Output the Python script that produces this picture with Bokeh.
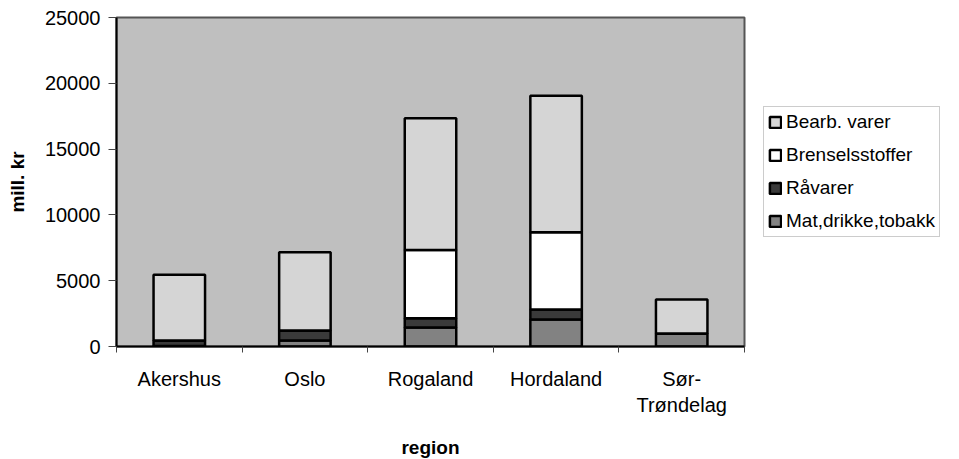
from bokeh.plotting import figure
from bokeh.models import Range1d, FixedTicker, Legend, LegendItem, ColumnDataSource
from bokeh.embed import file_html
from bokeh.resources import INLINE

regions = ["Akershus", "Oslo", "Rogaland", "Hordaland", "Sør-\nTrøndelag"]
series = ["Mat,drikke,tobakk", "Råvarer", "Brenselsstoffer", "Bearb. varer"]
mat = [40, 460, 1450, 2050, 990]
ravarer = [410, 760, 700, 770, 0]
brensel = [0, 0, 5180, 5870, 0]
bearb = [5000, 5940, 10020, 10370, 2590]
colors = ["#828282", "#3a3a3a", "#ffffff", "#d5d5d5"]
y_ticks = [0, 5000, 10000, 15000, 20000, 25000]

xs = [i + 0.5 for i in range(len(regions))]
bounds = list(range(len(regions) + 1))
source = ColumnDataSource(dict(x=xs, m=mat, r=ravarer, b=brensel, v=bearb))
keys = ["m", "r", "b", "v"]

FONT = "Liberation Sans"

p = figure(frame_width=628, frame_height=329, output_backend="svg", toolbar_location=None,
           x_range=Range1d(0, len(regions)), y_range=Range1d(0, 25000),
           min_border_left=116, min_border_top=17, min_border_bottom=104,
           min_border_right=0)

renderers = p.vbar_stack(keys, x="x", width=0.41, source=source,
                         fill_color=colors, line_color="black", line_width=2.5)

p.background_fill_color = "#bfbfbf"
p.border_fill_color = "white"
p.outline_line_color = "#555555"
p.outline_line_width = 2
p.xgrid.visible = False
p.ygrid.visible = False

# y axis
p.yaxis.ticker = FixedTicker(ticks=y_ticks, minor_ticks=[])
p.yaxis.axis_label = "mill. kr"
p.yaxis.axis_label_text_font = FONT
p.yaxis.axis_label_text_font_style = "bold"
p.yaxis.axis_label_text_font_size = "19px"
p.yaxis.axis_label_text_color = "black"
p.yaxis.axis_label_standoff = 14
p.yaxis.major_label_text_font = FONT
p.yaxis.major_label_text_font_size = "20px"
p.yaxis.major_label_text_color = "black"
p.yaxis.major_tick_out = 8
p.yaxis.major_tick_in = 0
p.yaxis.major_label_standoff = 8
p.yaxis.axis_line_color = "black"
p.yaxis.axis_line_width = 2
p.yaxis.major_tick_line_color = "#444444"

# x axis
p.xaxis.ticker = FixedTicker(ticks=xs, minor_ticks=bounds)
p.xaxis.major_label_overrides = {x: lab for x, lab in zip(xs, regions)}
p.xaxis.major_tick_out = 0
p.xaxis.major_tick_in = 0
p.xaxis.minor_tick_out = 6
p.xaxis.minor_tick_in = 0
p.xaxis.minor_tick_line_color = "#444444"
p.xaxis.major_label_standoff = 15
p.xaxis.major_label_text_font = FONT
p.xaxis.major_label_text_font_size = "20px"
p.xaxis.major_label_text_color = "black"
p.xaxis.axis_line_color = "black"
p.xaxis.axis_line_width = 2
p.xaxis.axis_label = "region"
p.xaxis.axis_label_text_font = FONT
p.xaxis.axis_label_text_font_style = "bold"
p.xaxis.axis_label_text_font_size = "19px"
p.xaxis.axis_label_text_color = "black"
p.xaxis.axis_label_standoff = 18

items = [LegendItem(label=s, renderers=[r]) for s, r in zip(series, renderers)]
items.reverse()
legend = Legend(items=items, location=(19, 109), margin=0, padding=4,
                spacing=11, glyph_width=14, glyph_height=14, label_standoff=4,
                label_text_font=FONT, label_text_font_size="19px",
                label_text_color="black",
                label_height=20, border_line_color="#999999",
                background_fill_color="white", background_fill_alpha=1.0)
p.add_layout(legend, "right")

open("out.html", "w").write(file_html(p, INLINE))
